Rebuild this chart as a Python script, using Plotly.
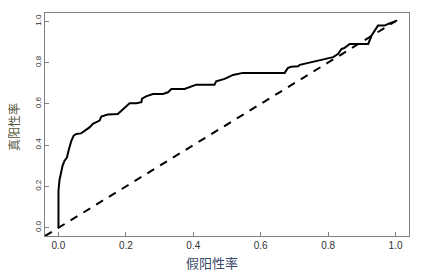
import plotly.graph_objects as go

# ROC curve points (false positive rate, true positive rate)
fpr = [0.0, 0.0, 0.003, 0.008, 0.012, 0.018, 0.025, 0.031, 0.038, 0.045, 0.053, 0.067,
       0.077, 0.092, 0.102, 0.122, 0.127, 0.146, 0.176, 0.186, 0.196, 0.211, 0.231,
       0.246, 0.248, 0.260, 0.280, 0.310, 0.325, 0.335, 0.374, 0.394, 0.409, 0.463,
       0.468, 0.493, 0.518, 0.547, 0.671, 0.681, 0.691, 0.711, 0.716, 0.815, 0.830,
       0.840, 0.849, 0.864, 0.899, 0.919, 0.929, 0.939, 0.948, 0.968, 0.978, 1.0]
tpr = [0.0, 0.18, 0.23, 0.28, 0.30, 0.325, 0.34, 0.38, 0.42, 0.446, 0.454, 0.457,
       0.467, 0.486, 0.503, 0.519, 0.538, 0.548, 0.551, 0.567, 0.583, 0.603, 0.603,
       0.608, 0.625, 0.636, 0.648, 0.648, 0.656, 0.672, 0.672, 0.683, 0.693, 0.693,
       0.709, 0.721, 0.740, 0.750, 0.750, 0.774, 0.780, 0.782, 0.789, 0.826, 0.842,
       0.866, 0.871, 0.890, 0.890, 0.890, 0.931, 0.955, 0.979, 0.979, 0.987, 1.0]

diag = [-0.04, 1.02]
tick_vals = [0.0, 0.2, 0.4, 0.6, 0.8, 1.0]
tick_text = ["0.0", "0.2", "0.4", "0.6", "0.8", "1.0"]
x_title = "假阳性率"
y_title = "真阳性率"

fig = go.Figure()
fig.add_trace(go.Scatter(x=diag, y=diag, mode="lines",
                         line=dict(color="black", width=2, dash="8px,7px"),
                         hoverinfo="skip", showlegend=False))
fig.add_trace(go.Scatter(x=fpr, y=tpr, mode="lines",
                         line=dict(color="black", width=2),
                         showlegend=False))

axis_common = dict(range=[-0.04, 1.04], tickvals=tick_vals, ticktext=tick_text,
                   showgrid=False, zeroline=False, showline=True, mirror=True,
                   linecolor="#808080", linewidth=1, ticks="inside", ticklen=4,
                   tickcolor="#808080")
fig.update_xaxes(**axis_common, tickfont=dict(family="Liberation Sans", size=10, color="#333333"))
fig.update_yaxes(**axis_common, tickangle=-90,
                 tickfont=dict(family="Liberation Sans", size=8, color="#333333"))

fig.add_annotation(text=x_title, xref="paper", yref="paper", x=0.4588, y=-0.1166,
                   showarrow=False, xanchor="center", yanchor="middle",
                   font=dict(family="Noto Sans CJK SC", size=13, color="#3b4a6b"))
fig.add_annotation(text=y_title, xref="paper", yref="paper", x=-0.0852, y=0.489,
                   showarrow=False, xanchor="center", yanchor="middle", textangle=-90,
                   font=dict(family="Noto Sans CJK SC", size=12, color="#55553a"))

fig.update_layout(width=428, height=274, margin=dict(l=45, r=19, t=13, b=38),
                  paper_bgcolor="white", plot_bgcolor="white")
fig.write_html("out.html")
